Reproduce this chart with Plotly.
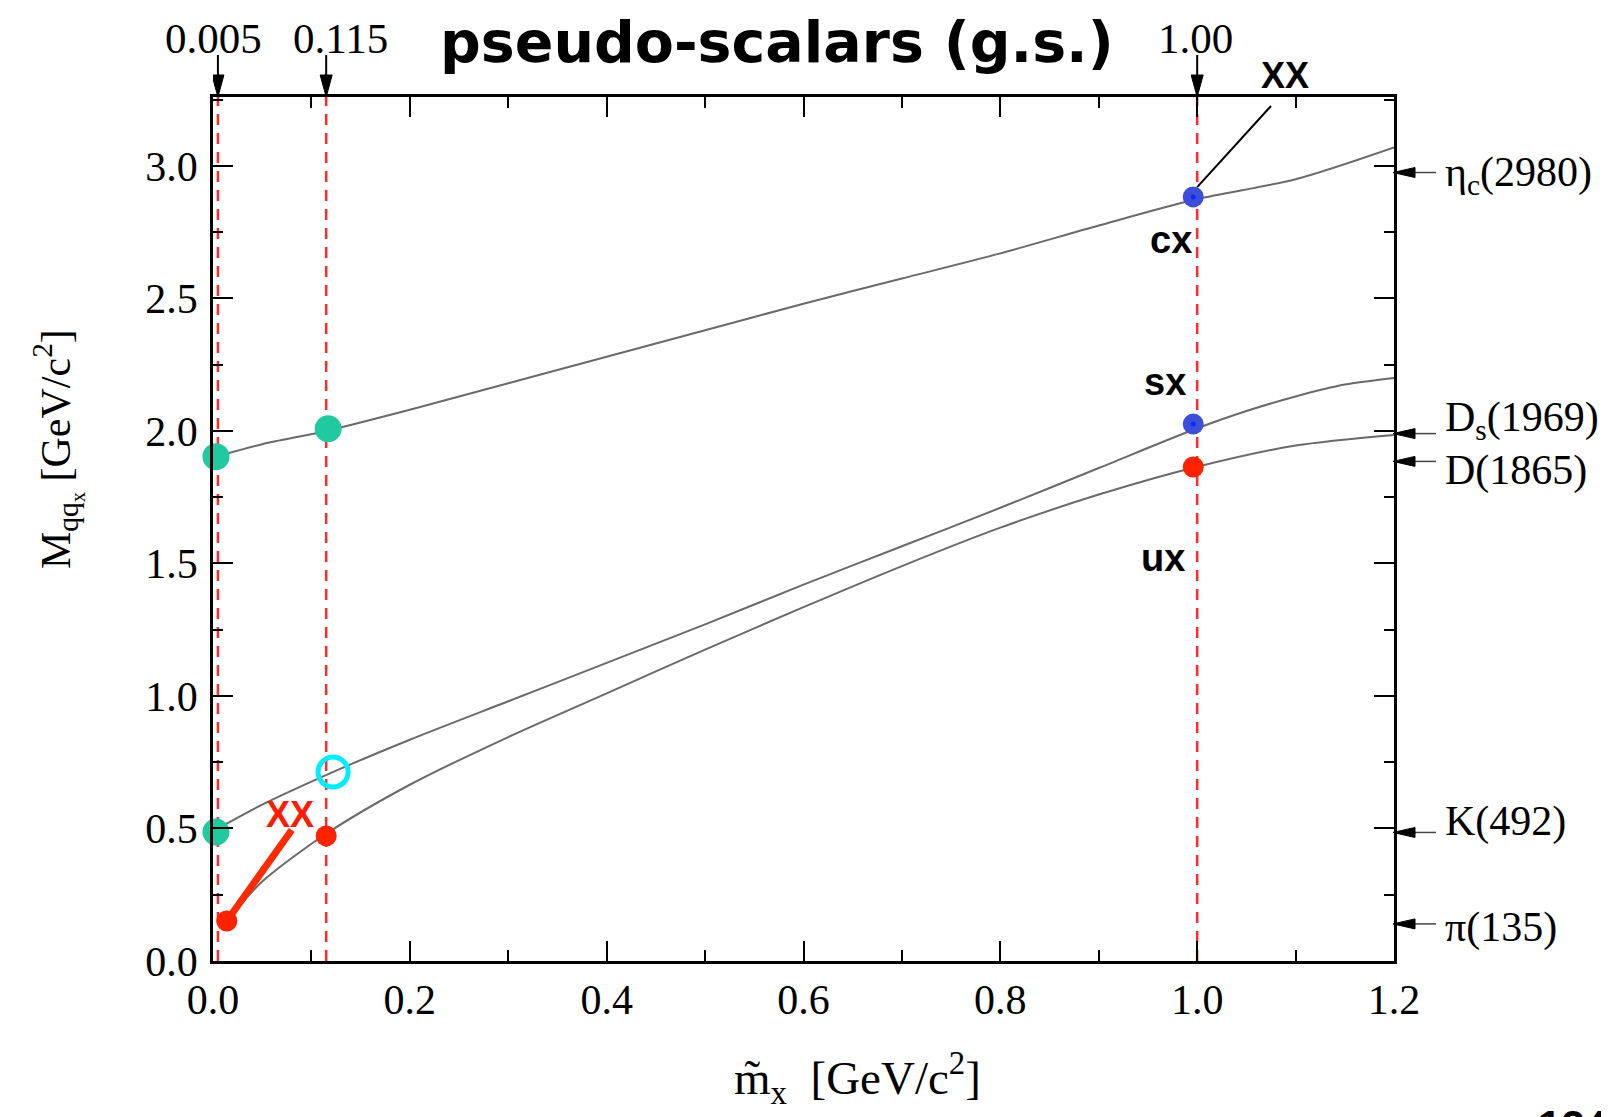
import plotly.graph_objects as go

# ---------------- data ----------------
cx_x = [0.0, 0.05, 0.115, 0.2, 0.3, 0.4, 0.5, 0.6, 0.7, 0.8, 0.9, 1.0, 1.1, 1.2]
cx_y = [1.90, 1.95, 2.00, 2.08, 2.18, 2.28, 2.38, 2.48, 2.575, 2.67, 2.775, 2.875, 2.95, 3.07]

sx_x = [0.005, 0.05, 0.12, 0.2, 0.3, 0.4, 0.5, 0.6, 0.7, 0.8, 0.9, 1.0, 1.05, 1.1, 1.15, 1.2]
sx_y = [0.50, 0.59, 0.71, 0.835, 0.98, 1.125, 1.27, 1.42, 1.565, 1.71, 1.86, 2.01, 2.075, 2.13, 2.175, 2.20]

ux_x = [0.014, 0.05, 0.115, 0.2, 0.3, 0.4, 0.5, 0.6, 0.7, 0.8, 0.9, 1.0, 1.1, 1.2]
ux_y = [0.15, 0.30, 0.48, 0.665, 0.845, 1.01, 1.175, 1.335, 1.49, 1.635, 1.76, 1.865, 1.945, 1.985]

vline_x = [0.005, 0.115, 1.0]
vline_labels = ["0.005", "0.115", "1.00"]
vline_label_x = [0.0, 0.1295, 0.9985]

green_x = [0.003, 0.117, 0.003]
green_y = [1.903, 2.008, 0.487]
red_x = [0.014, 0.115, 0.996]
red_y = [0.151, 0.472, 1.864]
blue_x = [0.996, 0.996]
blue_y = [2.883, 2.026]
cyan_x = [0.122]
cyan_y = [0.713]

red_seg_x = [0.014, 0.080]
red_seg_y = [0.151, 0.494]
blk_seg_x = [1.0, 1.075]
blk_seg_y = [2.92, 3.226]

quark_labels = ["cx", "sx", "ux"]
quark_lab_x = [0.973, 0.967, 0.965]
quark_lab_y = [2.72, 2.185, 1.52]

meson_labels = ["η<sub>c</sub>(2980)", "D<sub>s</sub>(1969)", "D(1865)", "K(492)", "π(135)"]
meson_arrow_y = [2.975, 1.99, 1.885, 0.485, 0.14]
meson_label_y = [2.965, 2.04, 1.85, 0.525, 0.128]

Y_MAX = 3.26
X_MAX = 1.2

# ---------------- figure ----------------
OFF = 8  # browser default body margin
W, H = 1609, 1117
L, R, T, B = 213, 1394, 97, 961
PW, PH = R - L, B - T


def px2paper_x(px):
    return (px - L) / PW


def py2paper_y(py):
    return (B - py) / PH


fig = go.Figure()

curve_style = dict(color="#6a6a6a", width=2, shape="spline", smoothing=0.8)
for xs, ys in [(cx_x, cx_y), (sx_x, sx_y), (ux_x, ux_y)]:
    fig.add_trace(go.Scatter(x=xs, y=ys, mode="lines", line=curve_style,
                             showlegend=False, hoverinfo="skip"))

for xv in vline_x:
    fig.add_trace(go.Scatter(x=[xv, xv], y=[0, Y_MAX], mode="lines",
                             line=dict(color="#ff2a2a", width=2.5, dash="11px,8px"),
                             showlegend=False, hoverinfo="skip"))

fig.add_trace(go.Scatter(x=red_seg_x, y=red_seg_y, mode="lines",
                         line=dict(color="#ff2a00", width=7), showlegend=False))
fig.add_trace(go.Scatter(x=blk_seg_x, y=blk_seg_y, mode="lines",
                         line=dict(color="black", width=2), showlegend=False))

fig.add_trace(go.Scatter(x=green_x, y=green_y, mode="markers", cliponaxis=False,
                         marker=dict(size=27, color="#20C9A0", line=dict(width=0)),
                         showlegend=False))
fig.add_trace(go.Scatter(x=red_x, y=red_y, mode="markers", cliponaxis=False,
                         marker=dict(size=21, color="#ff2200", line=dict(width=0)),
                         showlegend=False))
fig.add_trace(go.Scatter(x=blue_x, y=blue_y, mode="markers",
                         marker=dict(size=21, color="#3d4fd8", line=dict(width=0)),
                         showlegend=False))
fig.add_trace(go.Scatter(x=blue_x, y=blue_y, mode="markers",
                         marker=dict(size=5, color="#0a2aff", line=dict(width=0)),
                         showlegend=False))
fig.add_trace(go.Scatter(x=cyan_x, y=cyan_y, mode="markers",
                         marker=dict(size=30, symbol="circle-open", color="#00ecff",
                                     line=dict(width=5, color="#00ecff")),
                         showlegend=False))

serif = "Liberation Serif, Times New Roman, serif"
sans = "Liberation Sans, Arial, sans-serif"

axis_common = dict(
    showline=True, linecolor="black", linewidth=2.5, mirror="allticks",
    ticks="inside", ticklen=20, tickwidth=2, tickcolor="black",
    showgrid=False, zeroline=False,
    tickfont=dict(family=serif, size=42, color="black"),
)

fig.update_xaxes(range=[0, X_MAX], dtick=0.2, tick0=0, tickformat=".1f",
                 ticklabelstandoff=0,
                 minor=dict(dtick=0.1, ticks="inside", ticklen=11, tickwidth=2,
                            tickcolor="black", showgrid=False),
                 **axis_common)
fig.update_yaxes(range=[0, Y_MAX], dtick=0.5, tick0=0, tickformat=".1f",
                 ticklabelstandoff=4,
                 minor=dict(dtick=0.25, ticks="inside", ticklen=10, tickwidth=2,
                            tickcolor="black", showgrid=False),
                 **axis_common)

annotations = []
# title
annotations.append(dict(text="<b>pseudo-scalars (g.s.)</b>", xref="paper", yref="paper",
                        x=px2paper_x(777), y=py2paper_y(42), showarrow=False,
                        xanchor="center", yanchor="middle",
                        font=dict(family="DejaVu Sans", size=57, color="black")))
# top labels
for xl, lab in zip(vline_label_x, vline_labels):
    annotations.append(dict(text=lab, xref="x", yref="paper", x=xl, y=py2paper_y(38),
                            showarrow=False, xanchor="center", yanchor="middle",
                            font=dict(family=serif, size=43, color="black")))
# right meson labels
for lab, yl in zip(meson_labels, meson_label_y):
    annotations.append(dict(text=lab, xref="paper", yref="y", x=px2paper_x(1443), y=yl,
                            showarrow=False, xanchor="left", yanchor="middle",
                            font=dict(family=serif, size=42, color="black")))
# quark labels
for lab, xl, yl in zip(quark_labels, quark_lab_x, quark_lab_y):
    annotations.append(dict(text="<b>" + lab + "</b>", xref="x", yref="y", x=xl, y=yl,
                            showarrow=False, xanchor="center", yanchor="middle",
                            font=dict(family=sans, size=38, color="black")))
# XX labels
annotations.append(dict(text="<b>XX</b>", xref="paper", yref="paper",
                        x=px2paper_x(1285), y=py2paper_y(76),
                        showarrow=False, xanchor="center", yanchor="middle",
                        font=dict(family=sans, size=36, color="black")))
annotations.append(dict(text="<b>XX</b>", xref="x", yref="y", x=0.078, y=0.551,
                        showarrow=False, font=dict(family=sans, size=36, color="#ff1a00")))
# axis titles
annotations.append(dict(text="M<sub>qq<sub>x</sub></sub> [GeV/c<sup>2</sup>]",
                        xref="paper", yref="paper", x=px2paper_x(57), y=py2paper_y(449),
                        textangle=-90, showarrow=False, xanchor="center", yanchor="middle",
                        font=dict(family=serif, size=42, color="black")))
annotations.append(dict(text="m\u0303<sub>x</sub>\u00a0\u00a0[GeV/c<sup>2</sup>]",
                        xref="paper", yref="paper", x=px2paper_x(857), y=py2paper_y(1078),
                        showarrow=False, xanchor="center", yanchor="middle",
                        font=dict(family=serif, size=47, color="black")))
# cut-off page number
annotations.append(dict(text="<b>124</b>", xref="paper", yref="paper",
                        x=px2paper_x(1536), y=py2paper_y(1100), showarrow=False,
                        xanchor="left", yanchor="top",
                        font=dict(family=sans, size=42, color="black")))

shapes = []
# top arrows
for xv in vline_x:
    shapes.append(dict(type="line", xref="x", yref="paper", x0=xv, x1=xv,
                       y0=1 + 18 / PH, y1=1 + 42 / PH, line=dict(color="black", width=2)))
    shapes.append(dict(type="path", xref="x", yref="paper", xsizemode="pixel",
                       ysizemode="pixel", xanchor=xv, yanchor=1,
                       path="M0,0 L-6,22 L6,22 Z", fillcolor="black",
                       line=dict(color="black", width=1)))
# right arrows
for ym in meson_arrow_y:
    shapes.append(dict(type="line", xref="paper", yref="y", x0=1 + 18 / PW,
                       x1=px2paper_x(1436), y0=ym, y1=ym,
                       line=dict(color="#444", width=1.5)))
    shapes.append(dict(type="path", xref="paper", yref="y", xsizemode="pixel",
                       ysizemode="pixel", xanchor=1, yanchor=ym,
                       path="M-1,0 L21,5 L21,-5 Z", fillcolor="black",
                       line=dict(color="black", width=1)))

fig.update_layout(
    width=W - OFF, height=H - OFF,
    margin=dict(l=L - OFF, r=W - R, t=T - OFF, b=H - B, pad=0),
    paper_bgcolor="white", plot_bgcolor="white",
    showlegend=False,
    annotations=annotations,
    shapes=shapes,
)

fig.write_html("out.html")
